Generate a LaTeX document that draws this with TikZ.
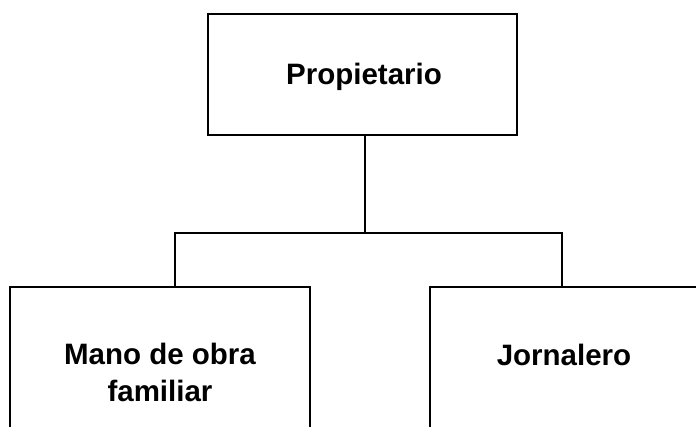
\documentclass[tikz,border=0pt]{standalone}
\usepackage{fontspec}
\setmainfont{Liberation Sans}
\begin{document}
\begin{tikzpicture}[x=1pt,y=-1pt,
  boxline/.style={line width=2.4pt},
  lbl/.style={font=\fontsize{29.5}{37}\selectfont\bfseries, align=center},
  conn/.style={line width=2pt}]
\useasboundingbox (0,0) rectangle (696,427);
\begin{scope}
\clip (0,0) rectangle (696,427);
\draw[boxline] (208,14) rectangle (517,135);
\draw[boxline] (10,287) rectangle (310,440);
\draw[boxline] (430,287) rectangle (710,440);
\end{scope}
\coordinate (top) at (365,135);
\coordinate (jn) at (365,233);
\coordinate (lt) at (175,287);
\coordinate (rt) at (562,287);
\node[lbl] (prop) at (364,77) {Propietario};
\node[lbl] (mano) at (160,372) {Mano de obra\\familiar};
\node[lbl] (jorn) at (564,355) {Jornalero};
\draw[conn] (top) -- (jn);
\draw[conn] (lt) |- (jn) -| (rt);
\end{tikzpicture}
\end{document}
